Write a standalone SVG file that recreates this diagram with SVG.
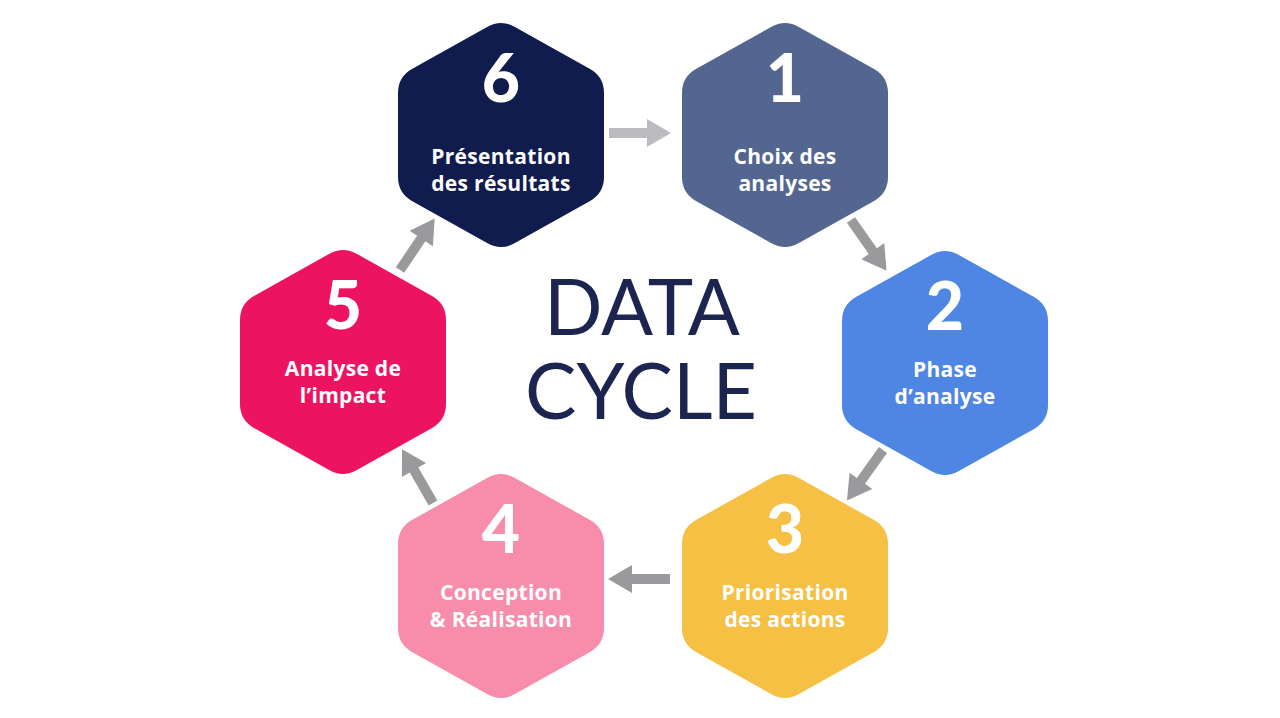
<svg xmlns="http://www.w3.org/2000/svg" width="1280" height="718" viewBox="0 0 1280 718">
  <defs>
    <path id="hex" d="M-13.9,-108.1 Q0,-116 13.9,-108.1 L89.1,-65.9 Q103,-58 103,-42 L103,42 Q103,58 89.1,65.9 L13.9,108.1 Q0,116 -13.9,108.1 L-89.1,65.9 Q-103,58 -103,42 L-103,-42 Q-103,-58 -89.1,-65.9 Z"/>
    <path id="arrow" d="M0,-5 L38,-5 L38,-14 L62,0 L38,14 L38,5 L0,5 Z"/>
  </defs>
  <style>
    .num { font-family: Lato, "Open Sans", sans-serif; font-weight: 900; font-size: 66px; fill: #ffffff; text-anchor: middle; }
    .lbl { font-family: "Open Sans", Lato, sans-serif; font-weight: 700; font-size: 21px; letter-spacing: 0.3px; fill: #ffffff; text-anchor: middle; }
    .title { font-family: Lato, "Noto Sans", sans-serif; font-weight: 400; font-size: 77px; fill: #1c2450; text-anchor: middle; }
    .arr { fill: #9a9a9c; }
    .arr-light { fill: #bcbcc0; }
  </style>
  <rect width="1280" height="718" fill="#ffffff"/>

  <g id="hex6" transform="translate(501,135)">
    <use href="#hex" fill="#111c4e"/>
    <text class="num" x="0" y="-33">6</text>
    <text class="lbl" x="0" y="29">Présentation</text>
    <text class="lbl" x="0" y="56">des résultats</text>
  </g>
  <g id="hex1" transform="translate(785,135)">
    <use href="#hex" fill="#53668f"/>
    <text class="num" x="0" y="-33">1</text>
    <text class="lbl" x="0" y="29">Choix des</text>
    <text class="lbl" x="0" y="56">analyses</text>
  </g>
  <g id="hex2" transform="translate(945,363)">
    <use href="#hex" fill="#4f86e3"/>
    <text class="num" x="0" y="-33">2</text>
    <text class="lbl" x="0" y="14">Phase</text>
    <text class="lbl" x="0" y="41">d’analyse</text>
  </g>
  <g id="hex3" transform="translate(785,586)">
    <use href="#hex" fill="#f5c044"/>
    <text class="num" x="0" y="-33">3</text>
    <text class="lbl" x="0" y="14">Priorisation</text>
    <text class="lbl" x="0" y="41">des actions</text>
  </g>
  <g id="hex4" transform="translate(501,586)">
    <use href="#hex" fill="#f78dab"/>
    <text class="num" x="0" y="-33">4</text>
    <text class="lbl" x="0" y="14">Conception</text>
    <text class="lbl" x="0" y="41">&amp; Réalisation</text>
  </g>
  <g id="hex5" transform="translate(343,362)">
    <use href="#hex" fill="#ec1460"/>
    <text class="num" x="0" y="-33">5</text>
    <text class="lbl" x="0" y="14">Analyse de</text>
    <text class="lbl" x="0" y="41">l’impact</text>
  </g>

  <g id="title">
    <text class="title" x="642" y="335">DATA</text>
    <text class="title" x="641" y="419">CYCLE</text>
  </g>

  <g id="connectors">
    <use href="#arrow" class="arr-light" transform="translate(609,133)"/>
    <use href="#arrow" class="arr" transform="translate(851,220) rotate(55)"/>
    <use href="#arrow" class="arr" transform="translate(883,450) rotate(125.5)"/>
    <use href="#arrow" class="arr" transform="translate(670,579) rotate(180)"/>
    <use href="#arrow" class="arr" transform="translate(433,503) rotate(-120)"/>
    <use href="#arrow" class="arr" transform="translate(400,270) rotate(-56)"/>
  </g>
</svg>
